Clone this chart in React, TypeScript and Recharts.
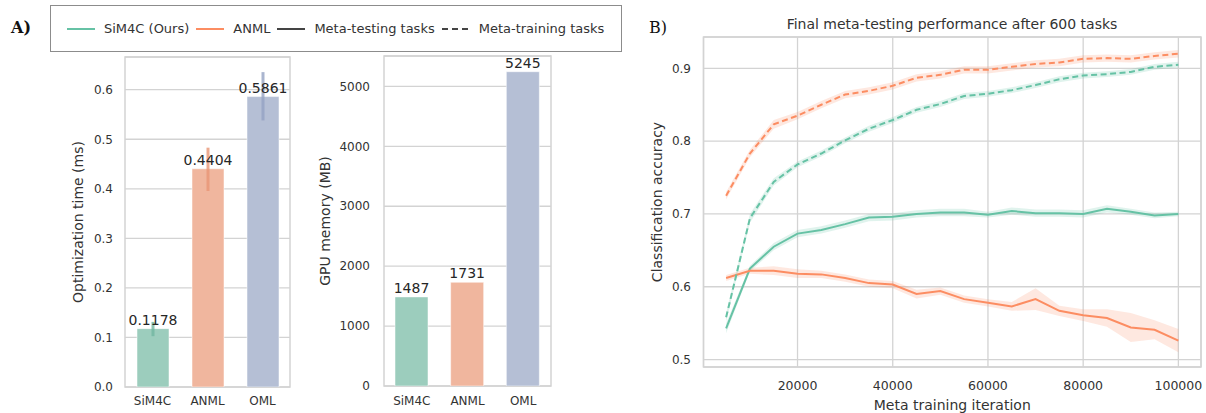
import React from 'react';
import {
  BarChart, Bar, XAxis, YAxis, CartesianGrid, ErrorBar, LabelList, ReferenceArea,
  ComposedChart, Line, Area,
} from 'recharts';

// ---------- Data ----------
const methods = ['SiM4C', 'ANML', 'OML'];
const optTime = [0.1178, 0.4404, 0.5861];
const optTimeErrLow = [0.0152, 0.0448, 0.0481];
const optTimeErrHigh = [0.0136, 0.0426, 0.0494];
const optTicks = [0, 0.1, 0.2, 0.3, 0.4, 0.5, 0.6];
const gpuMem = [1487, 1731, 5245];
const memTicks = [0, 1000, 2000, 3000, 4000, 5000];

const iterations = [5000, 10000, 15000, 20000, 25000, 30000, 35000, 40000, 45000, 50000,
  55000, 60000, 65000, 70000, 75000, 80000, 85000, 90000, 95000, 100000];
const sim4cTest = [0.543, 0.625, 0.655, 0.673, 0.678, 0.686, 0.695, 0.696, 0.700, 0.702,
  0.702, 0.699, 0.704, 0.701, 0.701, 0.700, 0.707, 0.703, 0.698, 0.700];
const sim4cTestBand = [0.007, 0.004, 0.005, 0.005, 0.005, 0.005, 0.005, 0.005, 0.005, 0.005,
  0.005, 0.004, 0.005, 0.005, 0.005, 0.005, 0.005, 0.004, 0.004, 0.003];
const anmlTest = [0.612, 0.622, 0.622, 0.618, 0.617, 0.612, 0.605, 0.603, 0.590, 0.594,
  0.583, 0.578, 0.573, 0.583, 0.567, 0.561, 0.557, 0.544, 0.541, 0.526];
const anmlTestBand = [0.004, 0.004, 0.006, 0.006, 0.005, 0.005, 0.005, 0.005, 0.006, 0.005,
  0.005, 0.005, 0.006, 0.015, 0.007, 0.008, 0.012, 0.020, 0.013, 0.016];
const sim4cTrain = [0.558, 0.694, 0.744, 0.768, 0.783, 0.801, 0.817, 0.829, 0.843, 0.851,
  0.862, 0.865, 0.870, 0.877, 0.885, 0.890, 0.892, 0.895, 0.902, 0.905];
const sim4cTrainBand = [0.006, 0.006, 0.005, 0.004, 0.004, 0.004, 0.004, 0.004, 0.004, 0.004,
  0.004, 0.004, 0.004, 0.004, 0.004, 0.004, 0.004, 0.004, 0.004, 0.004];
const anmlTrain = [0.725, 0.783, 0.823, 0.835, 0.850, 0.864, 0.869, 0.876, 0.887, 0.891,
  0.898, 0.898, 0.902, 0.906, 0.908, 0.913, 0.914, 0.913, 0.917, 0.920];
const anmlTrainBand = [0.005, 0.005, 0.006, 0.005, 0.005, 0.005, 0.005, 0.005, 0.005, 0.005,
  0.005, 0.005, 0.005, 0.005, 0.005, 0.005, 0.005, 0.005, 0.005, 0.005];
const iterTicks = [20000, 40000, 60000, 80000, 100000];
const accTicks = [0.5, 0.6, 0.7, 0.8, 0.9];

// ---------- Styles ----------
const FONT = 'DejaVu Sans, Verdana, sans-serif';
const TXT = '#333333';
const GRID = '#d3d3d3';
const barFill = ['#9ccdbd', '#f0b69e', '#b5bfd5'];
const errColor = ['#72b7a1', '#e99675', '#95a3c3'];
const GREEN = '#66c2a5';
const ORANGE = '#fc8d62';
const seriesKeys = ['s0', 's1', 's2'];

const tickStyle = { fontSize: 12, fill: TXT, fontFamily: FONT };
const tickStyleB = { fontSize: 12.5, fill: TXT, fontFamily: FONT };

function buildBarRows(values: number[], lo?: number[], hi?: number[]) {
  return methods.map((name, i) => {
    const row: any = { name };
    seriesKeys.forEach((k, j) => {
      if (i === j) {
        row[k] = values[i];
        if (lo && hi) row[k + 'err'] = [lo[i], hi[i]];
      }
    });
    return row;
  });
}

const optRows = buildBarRows(optTime, optTimeErrLow, optTimeErrHigh);
const memRows = buildBarRows(gpuMem);

const lineRows = iterations.map((x, i) => ({
  x,
  gT: sim4cTest[i],
  gTb: [sim4cTest[i] - sim4cTestBand[i], sim4cTest[i] + sim4cTestBand[i]],
  oT: anmlTest[i],
  oTb: [anmlTest[i] - anmlTestBand[i], anmlTest[i] + anmlTestBand[i]],
  gR: sim4cTrain[i],
  gRb: [sim4cTrain[i] - sim4cTrainBand[i], sim4cTrain[i] + sim4cTrainBand[i]],
  oR: anmlTrain[i],
  oRb: [anmlTrain[i] - anmlTrainBand[i], anmlTrain[i] + anmlTrainBand[i]],
}));

function BarPanel(props: {
  rows: any[]; width: number; marginTop: number; marginRight: number; yWidth: number;
  xHeight: number; ymax: number; ticks: number[]; yLabel: string; labelOffset: number;
  yTickMargin: number; xTickMargin: number; fmt: (v: number) => string; withErr: boolean;
  barSize: number;
}) {
  const p = props;
  return (
    <BarChart width={p.width} height={413} data={p.rows}
      margin={{ top: p.marginTop, right: p.marginRight, bottom: 0, left: 0 }}>
      <CartesianGrid vertical={false} stroke={GRID} strokeWidth={1.3} />
      <ReferenceArea y1={0} y2={p.ymax} fill="none" stroke={GRID} strokeWidth={1.5} fillOpacity={0} ifOverflow="visible" />
      <XAxis dataKey="name" height={p.xHeight} tickLine={false} axisLine={false}
        tickSize={0} tickMargin={p.xTickMargin} tick={tickStyle} interval={0} />
      <YAxis width={p.yWidth} domain={[0, p.ymax]} ticks={p.ticks} allowDataOverflow
        tickLine={false} axisLine={false} tickSize={0} tickMargin={p.yTickMargin}
        tick={tickStyle} tickFormatter={p.fmt}
        label={{ value: p.yLabel, angle: -90, position: 'insideLeft', offset: p.labelOffset,
          style: { textAnchor: 'middle', fontSize: 14, fill: TXT, fontFamily: FONT } }} />
      {seriesKeys.map((k, j) => (
        <Bar key={k} dataKey={k} stackId="a" fill={barFill[j]} barSize={p.barSize}
          isAnimationActive={false} stroke="#ffffff" strokeOpacity={0.5} strokeWidth={1}>
          {p.withErr && (
            <ErrorBar dataKey={k + 'err'} width={0} strokeWidth={3} stroke={errColor[j]}
              strokeOpacity={0.8} direction="y" />
          )}
          <LabelList dataKey={k} position="top" offset={4} formatter={(v: any) => (v == null ? '' : String(v))}
            style={{ fontSize: 14, fill: '#262626', fontFamily: FONT }} />
        </Bar>
      ))}
    </BarChart>
  );
}

function LegendHandle({ color, dashed }: { color: string; dashed?: boolean }) {
  return (
    <svg width={28} height={6} style={{ display: 'block' }}>
      <line x1={0} y1={3} x2={28} y2={3} stroke={color} strokeWidth={2}
        strokeDasharray={dashed ? '6 4' : undefined} />
    </svg>
  );
}

export default function App() {
  return (
    <div style={{ position: 'absolute', left: 0, top: 0, width: 1206, height: 413, background: '#fff', fontFamily: FONT, overflow: 'hidden' }}>
      {/* Bar panel 1 */}
      <div style={{ position: 'absolute', left: 0, top: 0 }}>
        <BarPanel rows={optRows} width={300} marginTop={57} marginRight={10} yWidth={125} xHeight={26}
          ymax={0.666} ticks={optTicks} yLabel="Optimization time (ms)" labelOffset={78}
          yTickMargin={12} xTickMargin={9} fmt={(v) => v.toFixed(1)} withErr barSize={32} />
      </div>
      {/* Bar panel 2 */}
      <div style={{ position: 'absolute', left: 300, top: 0 }}>
        <BarPanel rows={memRows} width={260} marginTop={56} marginRight={9} yWidth={84} xHeight={27}
          ymax={5507} ticks={memTicks} yLabel="GPU memory (MB)" labelOffset={25}
          yTickMargin={14} xTickMargin={10} fmt={(v) => String(v)} withErr={false} barSize={33} />
      </div>
      {/* Line panel */}
      <div style={{ position: 'absolute', left: 630, top: 0 }}>
        <ComposedChart width={576} height={413} data={lineRows}
          margin={{ top: 37, right: 5, bottom: 0, left: 0 }}>
          <CartesianGrid stroke={GRID} strokeWidth={1.3} />
          <ReferenceArea x1={250} x2={104750} y1={0.4898} y2={0.943} fill="none" fillOpacity={0}
            stroke={GRID} strokeWidth={1.5} ifOverflow="visible" />
          <XAxis dataKey="x" type="number" domain={[250, 104750]} ticks={iterTicks} allowDataOverflow
            height={46} tickLine={false} axisLine={false} tickSize={0} tickMargin={14} tick={tickStyleB}
            label={{ value: 'Meta training iteration', position: 'insideBottom', offset: 3,
              style: { fontSize: 14, fill: TXT, fontFamily: FONT } }} />
          <YAxis type="number" domain={[0.4898, 0.943]} ticks={accTicks} allowDataOverflow width={73.5}
            tickLine={false} axisLine={false} tickSize={0} tickMargin={12.5} tick={tickStyle}
            tickFormatter={(v: number) => v.toFixed(1)}
            label={{ value: 'Classification accuracy', angle: -90, position: 'insideLeft', offset: 27,
              style: { textAnchor: 'middle', fontSize: 14, fill: TXT, fontFamily: FONT } }} />
          <Area dataKey="gTb" type="linear" stroke="none" fill={GREEN} fillOpacity={0.2} isAnimationActive={false} />
          <Area dataKey="oTb" type="linear" stroke="none" fill={ORANGE} fillOpacity={0.2} isAnimationActive={false} />
          <Area dataKey="gRb" type="linear" stroke="none" fill={GREEN} fillOpacity={0.2} isAnimationActive={false} />
          <Area dataKey="oRb" type="linear" stroke="none" fill={ORANGE} fillOpacity={0.2} isAnimationActive={false} />
          <Line dataKey="gT" type="linear" stroke={GREEN} strokeWidth={2} dot={false} isAnimationActive={false} />
          <Line dataKey="oT" type="linear" stroke={ORANGE} strokeWidth={2} dot={false} isAnimationActive={false} />
          <Line dataKey="gR" type="linear" stroke={GREEN} strokeWidth={2} strokeDasharray="6 3.5" dot={false} isAnimationActive={false} />
          <Line dataKey="oR" type="linear" stroke={ORANGE} strokeWidth={2} strokeDasharray="6 3.5" dot={false} isAnimationActive={false} />
        </ComposedChart>
      </div>
      {/* Title of panel B */}
      <div style={{ position: 'absolute', left: 703, width: 498, top: 15, textAlign: 'center', fontSize: 14, color: TXT, lineHeight: '18px', whiteSpace: 'nowrap' }}>
        Final meta-testing performance after 600 tasks
      </div>
      {/* Panel letters */}
      <div style={{ position: 'absolute', left: 11, top: 18, fontFamily: 'DejaVu Serif, serif', fontWeight: 'bold', fontSize: 16, lineHeight: '20px', color: '#111' }}>A)</div>
      <div style={{ position: 'absolute', left: 649, top: 18, fontFamily: 'DejaVu Serif, serif', fontSize: 16, lineHeight: '20px', color: '#111' }}>B)</div>
      {/* Legend */}
      <div style={{ position: 'absolute', left: 50, top: 5, width: 572, height: 47, boxSizing: 'border-box', border: '1.3px solid #8c8c8c', display: 'flex', alignItems: 'center', padding: '0 16px', fontSize: 13, color: TXT, whiteSpace: 'nowrap' }}>
        <LegendHandle color={GREEN} />
        <span style={{ marginLeft: 9 }}>SiM4C (Ours)</span>
        <span style={{ marginLeft: 7 }}><LegendHandle color={ORANGE} /></span>
        <span style={{ marginLeft: 9 }}>ANML</span>
        <span style={{ marginLeft: 7 }}><LegendHandle color="#444444" /></span>
        <span style={{ marginLeft: 9 }}>Meta-testing tasks</span>
        <span style={{ marginLeft: 7 }}><LegendHandle color="#444444" dashed /></span>
        <span style={{ marginLeft: 9 }}>Meta-training tasks</span>
      </div>
    </div>
  );
}
